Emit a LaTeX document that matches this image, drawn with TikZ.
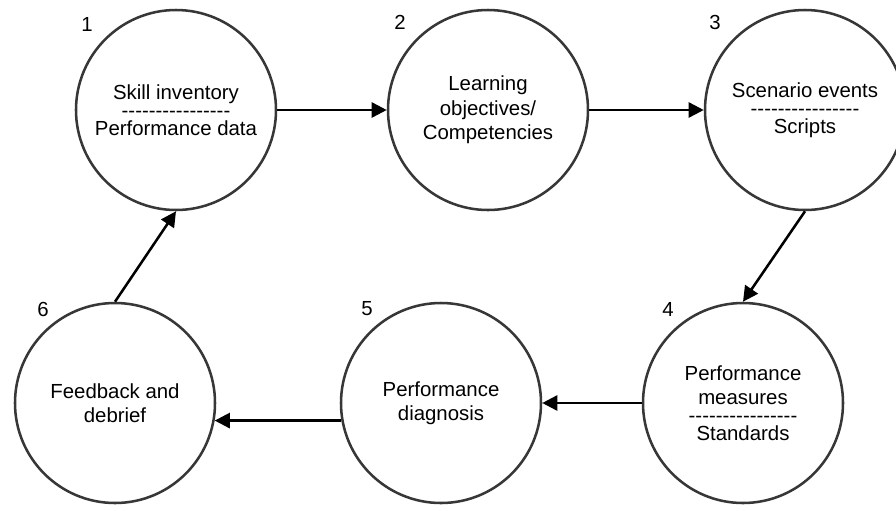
\documentclass[tikz,border=0pt]{standalone}
\usepackage{fontspec}
\setmainfont{Liberation Sans}
\usepackage{tikz}
\usetikzlibrary{arrows.meta}
\definecolor{ringgray}{RGB}{55,55,55}
\newcommand{\sepline}{\foreach\k in {1,...,16}{\mbox{-}}}

\begin{document}
\begin{tikzpicture}[
  stage/.style={circle, draw=ringgray, line width=1.8pt, minimum size=5cm, inner sep=0pt, align=center, font=\fontsize{14.5}{17.4}\selectfont},
  num/.style={font=\fontsize{14.5}{17.4}\selectfont, inner sep=0pt},
  arrow/.style={-{Triangle[length=0.38cm, width=0.38cm]}, line width=1.8pt, black}
]
\useasboundingbox (0,0) rectangle (22.4,-12.75);
% top row
\node[stage] (c1) at (4.40,-2.75) {Skill inventory\\[-4.6pt]\sepline\\[-4.6pt]Performance data};
\node[stage] (c2) at (12.20,-2.75) {Learning\\objectives/\\Competencies};
\node[stage] (c3) at (20.125,-2.75) {Scenario events\\[-4.6pt]\sepline\\[-4.6pt]Scripts};
% bottom row
\node[stage] (c4) at (18.575,-10.075) {Performance\\measures\\[-4.6pt]\sepline\\[-4.6pt]Standards};
\node[stage] (c5) at (11.025,-10.075) {Performance\\diagnosis};
\node[stage] (c6) at (2.875,-10.075) {Feedback and\\debrief};
% step numbers
\node[num] (n1) at (2.175,-0.6) {1};
\node[num] (n2) at (10.0,-0.55) {2};
\node[num] (n3) at (17.875,-0.55) {3};
\node[num] (n4) at (16.7,-7.725) {4};
\node[num] (n5) at (9.175,-7.725) {5};
\node[num] (n6) at (1.075,-7.725) {6};
% arrows
\draw[arrow] (c1.east) -- (c2.west);
\draw[arrow] (c2.east) -- (c3.west);
\draw[arrow] (c3.south) -- (c4.north);
\draw[arrow] (c4.west) -- (c5.east);
\draw[arrow] (c5.190) -- (c6.350);
\draw[arrow] (c6.north) -- (c1.south);
\end{tikzpicture}
\end{document}
